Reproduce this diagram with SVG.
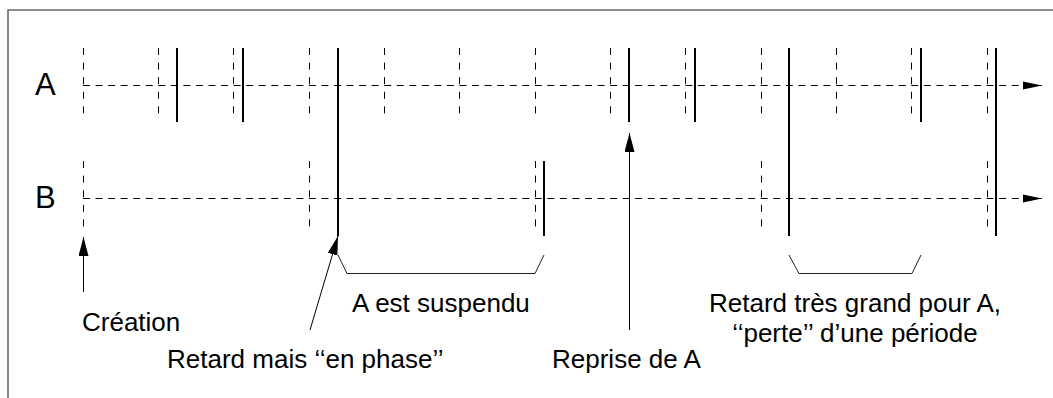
<svg xmlns="http://www.w3.org/2000/svg" width="1053" height="398" viewBox="0 0 1053 398">
<style>
.frame{fill:none;stroke:#6a6a6a;stroke-width:1.6}
.axis{fill:none;stroke:#000;stroke-width:1;stroke-dasharray:7 5.55}
.tick{fill:none;stroke:#000;stroke-width:1;stroke-dasharray:7 7.6}
.ev{fill:none;stroke:#000;stroke-width:2}
.thin{fill:none;stroke:#000;stroke-width:1}
.brk{fill:none;stroke:#222;stroke-width:1}
.lbl{font-family:"Liberation Sans",Arial,Helvetica,sans-serif;font-size:26px;fill:#000}
.row{font-family:"Liberation Sans",Arial,Helvetica,sans-serif;font-size:31px;fill:#000}
</style>
<defs>
<marker id="ah" markerUnits="userSpaceOnUse" markerWidth="20" markerHeight="10" refX="19" refY="4.5" orient="auto">
<path d="M0,0.5 L19,4.5 L0,8.5 Z" fill="#000"/>
</marker>
<marker id="ap" markerUnits="userSpaceOnUse" markerWidth="20" markerHeight="12" refX="19" refY="5" orient="auto">
<path d="M0,0 L19,5 L0,10 Z" fill="#000"/>
</marker>
</defs>
<rect width="1053" height="398" fill="#fff"/>
<path class="frame" d="M8,398 V10 H1053"/>

<g id="row-A">
<text class="row" x="35" y="95">A</text>
<line class="axis" x1="83" y1="85.5" x2="1042" y2="85.5" marker-end="url(#ah)"/>
<g>
<line class="tick" x1="83.5" y1="48" x2="83.5" y2="115"/>
<line class="tick" x1="158.5" y1="48" x2="158.5" y2="115"/>
<line class="tick" x1="233.5" y1="48" x2="233.5" y2="115"/>
<line class="tick" x1="309.5" y1="48" x2="309.5" y2="115"/>
<line class="tick" x1="384.5" y1="48" x2="384.5" y2="115"/>
<line class="tick" x1="459.5" y1="48" x2="459.5" y2="115"/>
<line class="tick" x1="535.5" y1="48" x2="535.5" y2="115"/>
<line class="tick" x1="610.5" y1="48" x2="610.5" y2="115"/>
<line class="tick" x1="685.5" y1="48" x2="685.5" y2="115"/>
<line class="tick" x1="761.5" y1="48" x2="761.5" y2="115"/>
<line class="tick" x1="836.5" y1="48" x2="836.5" y2="115"/>
<line class="tick" x1="911.5" y1="48" x2="911.5" y2="115"/>
<line class="tick" x1="987.5" y1="48" x2="987.5" y2="115"/>
</g>
<line class="ev" x1="177" y1="48" x2="177" y2="122"/>
<line class="ev" x1="243" y1="48" x2="243" y2="122"/>
<line class="ev" x1="629" y1="48" x2="629" y2="122"/>
<line class="ev" x1="695" y1="48" x2="695" y2="122"/>
<line class="ev" x1="921" y1="48" x2="921" y2="122"/>
</g>

<g id="row-B">
<text class="row" x="35" y="208">B</text>
<line class="axis" x1="83" y1="198.5" x2="1042" y2="198.5" marker-end="url(#ah)"/>
<line class="tick" x1="83.5" y1="161" x2="83.5" y2="228"/>
<line class="tick" x1="309.5" y1="161" x2="309.5" y2="228"/>
<line class="tick" x1="535.5" y1="161" x2="535.5" y2="228"/>
<line class="tick" x1="761.5" y1="161" x2="761.5" y2="228"/>
<line class="tick" x1="987.5" y1="161" x2="987.5" y2="228"/>
<line class="ev" x1="544" y1="161" x2="544" y2="236"/>
</g>

<g id="long-events">
<line class="ev" x1="338" y1="48" x2="338" y2="236"/>
<line class="ev" x1="789" y1="48" x2="789" y2="236"/>
<line class="ev" x1="996" y1="48" x2="996" y2="236"/>
</g>

<g id="connectors">
<line class="thin" x1="83.5" y1="292" x2="83.5" y2="237" marker-end="url(#ap)"/>
<line class="thin" x1="310" y1="330" x2="338" y2="236" marker-end="url(#ap)"/>
<line class="thin" x1="629.5" y1="330" x2="629.5" y2="133" marker-end="url(#ap)"/>
<path class="brk" d="M338,255 L347,273.5 L535,273.5 L544,255"/>
<path class="brk" d="M789,255 L799,273.5 L912,273.5 L921,255"/>
</g>

<g id="label-creation"><text class="lbl" x="82" y="331">Création</text></g>
<g id="label-retard"><text class="lbl" x="167" y="368">Retard mais ‘‘en phase’’</text></g>
<g id="label-suspendu"><text class="lbl" x="352" y="312">A est suspendu</text></g>
<g id="label-reprise"><text class="lbl" x="552" y="368">Reprise de A</text></g>
<g id="label-perte">
<text class="lbl" x="855" y="312" text-anchor="middle">Retard très grand pour A,</text>
<text class="lbl" x="855" y="342" text-anchor="middle">‘‘perte’’ d’une période</text>
</g>
</svg>
